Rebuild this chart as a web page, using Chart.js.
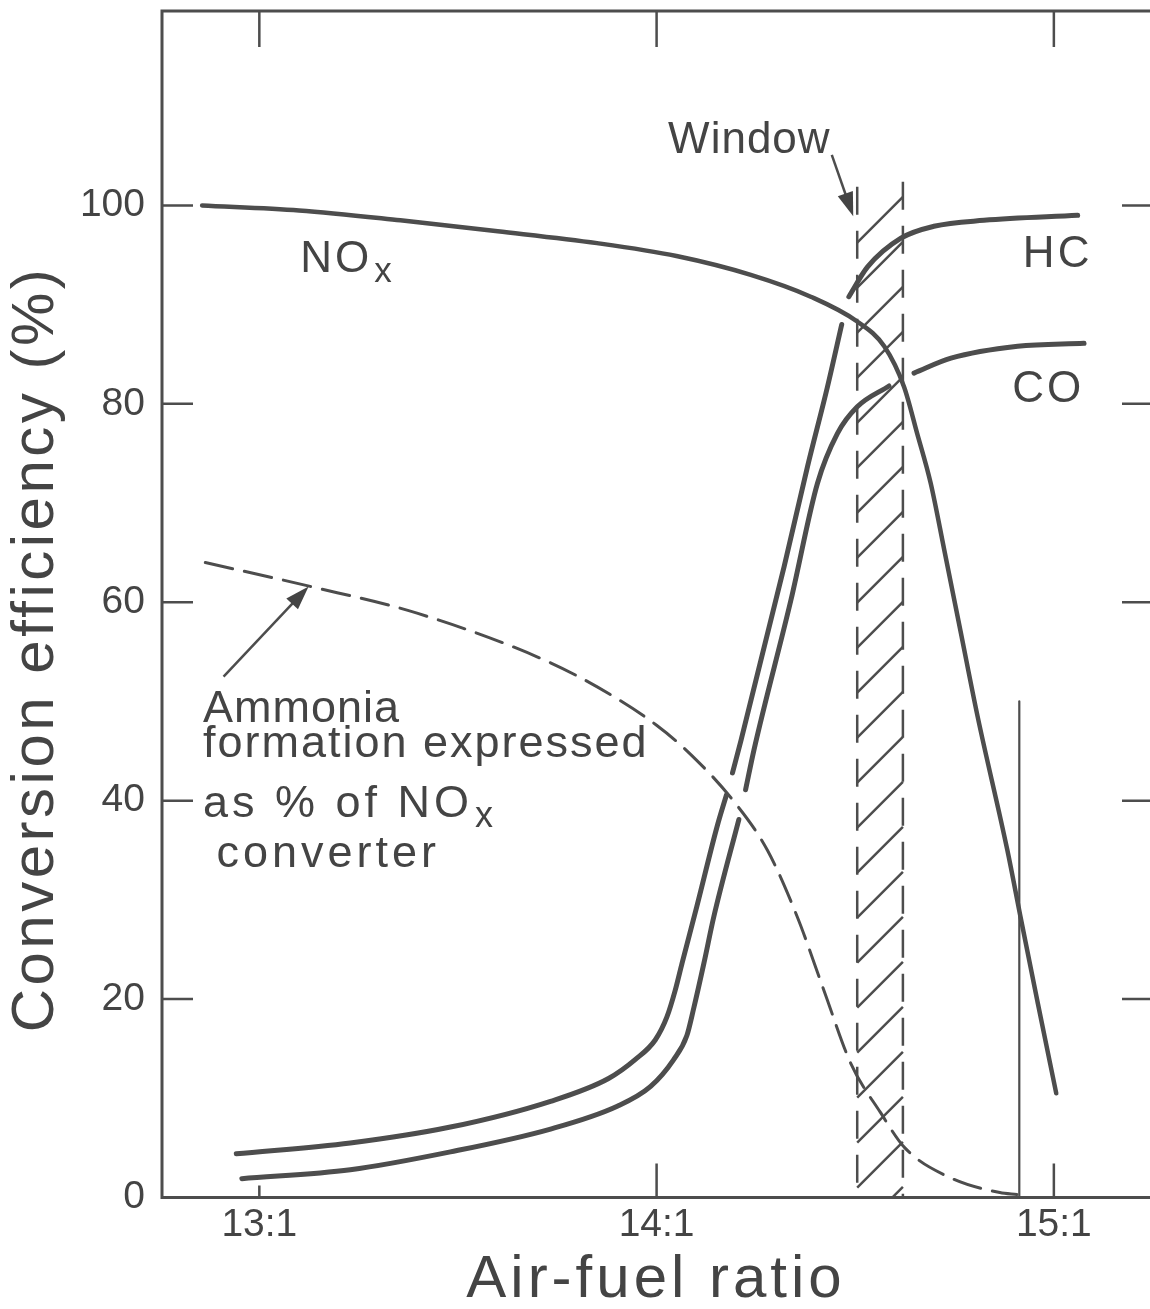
<!DOCTYPE html>
<html>
<head>
<meta charset="utf-8">
<script src="https://cdn.jsdelivr.net/npm/chart.js@4.4.1/dist/chart.umd.min.js"></script>
<style>
    html, body { margin: 0; padding: 0; background: #fff; }
    #wrap { width: 1150px; height: 1309px; position: relative; }
</style>
</head>
<body>
<div id="wrap"><canvas id="chart"></canvas></div>
<script>
// ==========================================
// DATA
// ==========================================

const ratioTicks = [13, 14, 15];
const ratioTickLabels = ['13:1', '14:1', '15:1'];
const efficiencyTicks = [0, 20, 40, 60, 80, 100];

// NOx conversion
const noxRatio = [12.856, 13.1, 13.355, 13.6, 13.85, 14.05, 14.237, 14.388, 14.505, 14.573, 14.623,
    14.656, 14.69, 14.724, 14.766, 14.808, 14.883, 14.916, 14.96, 15.006];
const noxEff = [100.0, 99.5, 98.5, 97.4, 96.2, 94.9, 93.0, 90.8, 88.3, 85.8, 81.7,
    77.0, 72.0, 65.3, 56.9, 48.5, 35.0, 28.3, 19.5, 10.5];

// HC conversion (null = pen lift in the drawing)
const hcRatio = [12.942, 13.229, 13.481, 13.733, 13.879, 13.946, 13.997, 14.026, 14.047, 14.064, 14.101,
    14.153, 14.176, null, 14.191, 14.212, 14.321, 14.38, 14.43, 14.466, null,
    14.484, 14.531, 14.615, 14.698, 14.824, 15.06];
const hcEff = [4.4, 5.5, 7.1, 9.7, 12.0, 13.9, 15.9, 18.2, 20.9, 23.6, 29.3,
    37.5, 40.6, null, 42.8, 46.0, 63.6, 73.7, 81.7, 88.0, null,
    90.8, 93.8, 96.7, 97.9, 98.5, 99.0];

// CO conversion
const coRatio = [12.956, 13.229, 13.481, 13.733, 13.901, 13.985, 14.043, 14.076, 14.093, 14.119, 14.144,
    14.207, null, 14.224, 14.245, 14.338, 14.405, 14.455, 14.505, 14.585, null,
    14.648, 14.741, 14.909, 15.076];
const coEff = [1.9, 2.8, 4.6, 6.9, 9.2, 11.2, 13.9, 16.3, 19.0, 23.6, 28.3,
    38.1, null, 41.1, 45.1, 60.2, 72.0, 77.0, 79.7, 81.8, null,
    83.1, 84.6, 85.8, 86.1];

// Ammonia formation (dashed)
const ammoniaRatio = [12.864, 13.128, 13.397, 13.733, 13.9, 14.0, 14.077, 14.191, 14.279, 14.354,
    14.421, 14.489, 14.563, 14.625, 14.739, 14.864, 14.907];
const ammoniaEff = [64.0, 61.6, 58.9, 53.9, 50.3, 47.6, 45.0, 40.1, 35.0, 28.3,
    20.9, 13.5, 8.6, 5.0, 2.0, 0.5, 0.3];

// thin vertical marker line near 15:1
const markerRatio = [14.913, 14.913];
const markerEff = [0, 50];

// hatched "window"
const windowEdges = [14.505, 14.62];
const windowTop = 102.4;

const INK = '#4d4d4d';
const TEXT = '#444';
const FONT = '"Liberation Sans", Arial, sans-serif';

function toPoints(xs, ys) {
    return xs.map((x, i) => ({ x: x, y: ys[i] }));
}

// ==========================================
// DRAWING HELPERS
// ==========================================

function drawArrow(ctx, x0, y0, x1, y1) {
    const ang = Math.atan2(y1 - y0, x1 - x0);
    const len = 24, half = 8;
    ctx.beginPath();
    ctx.moveTo(x0, y0);
    ctx.lineTo(x1 - Math.cos(ang) * len * 0.6, y1 - Math.sin(ang) * len * 0.6);
    ctx.stroke();
    ctx.beginPath();
    ctx.moveTo(x1, y1);
    ctx.lineTo(x1 - Math.cos(ang) * len - Math.sin(ang) * half, y1 - Math.sin(ang) * len + Math.cos(ang) * half);
    ctx.lineTo(x1 - Math.cos(ang) * len + Math.sin(ang) * half, y1 - Math.sin(ang) * len - Math.cos(ang) * half);
    ctx.closePath();
    ctx.fill();
}

function drawLabel(ctx, xs, ys, item) {
    const px = xs.getPixelForValue(item.x);
    const py = ys.getPixelForValue(item.y);
    ctx.font = item.size + 'px ' + FONT;
    ctx.letterSpacing = (item.spacing || 0) + 'px';
    ctx.textAlign = 'left';
    ctx.textBaseline = 'alphabetic';
    ctx.fillText(item.text, px, py);
    if (item.sub) {
        const w = ctx.measureText(item.text).width;
        ctx.font = Math.round(item.size * 0.8) + 'px ' + FONT;
        ctx.fillText(item.sub, px + w + 2, py + 10);
    }
    ctx.letterSpacing = '0px';
}

// frame, inward ticks and the hatched window
const paperPlugin = {
    id: 'paper',
    beforeDatasetsDraw(chart) {
        const ctx = chart.ctx;
        const a = chart.chartArea;
        const xs = chart.scales.x, ys = chart.scales.y;
        ctx.save();
        ctx.strokeStyle = INK;
        ctx.lineCap = 'butt';

        // frame (right side falls off the page)
        ctx.lineWidth = 3;
        ctx.beginPath();
        ctx.moveTo(a.right + 2, a.top);
        ctx.lineTo(a.left, a.top);
        ctx.lineTo(a.left, a.bottom);
        ctx.lineTo(a.right + 2, a.bottom);
        ctx.stroke();

        // inward ticks
        ctx.lineWidth = 2.5;
        ctx.beginPath();
        efficiencyTicks.forEach(v => {
            if (v === 0) return;
            const py = ys.getPixelForValue(v);
            ctx.moveTo(a.left, py); ctx.lineTo(a.left + 31, py);
            ctx.moveTo(a.right, py); ctx.lineTo(a.right - 28, py);
        });
        const bottomLen = [12, 34, 34];
        ratioTicks.forEach((v, i) => {
            const px = xs.getPixelForValue(v);
            ctx.moveTo(px, a.top); ctx.lineTo(px, a.top + 36);
            ctx.moveTo(px, a.bottom); ctx.lineTo(px, a.bottom - bottomLen[i]);
        });
        ctx.stroke();

        // window hatch
        const L = xs.getPixelForValue(windowEdges[0]);
        const R = xs.getPixelForValue(windowEdges[1]);
        const T = ys.getPixelForValue(windowTop);
        const B = ys.getPixelForValue(0);
        ctx.lineWidth = 2.5;
        ctx.setLineDash([28, 16]);
        ctx.beginPath();
        ctx.moveTo(L, T + 5); ctx.lineTo(L, B);
        ctx.moveTo(R, T); ctx.lineTo(R, B);
        ctx.stroke();
        ctx.setLineDash([]);
        ctx.save();
        ctx.beginPath();
        ctx.rect(L - 2, T, R - L + 4, B - T);
        ctx.clip();
        ctx.beginPath();
        for (let yk = T + 61; yk < B + 45; yk += 45) {
            ctx.moveTo(L, yk);
            ctx.lineTo(R, yk - (R - L));
        }
        ctx.stroke();
        ctx.restore();
        ctx.restore();
    },
    afterDatasetsDraw(chart) {
        const ctx = chart.ctx;
        const xs = chart.scales.x, ys = chart.scales.y;
        ctx.save();
        ctx.fillStyle = TEXT;
        ctx.strokeStyle = INK;
        ctx.lineWidth = 2.5;

        [
            { text: 'NO', sub: 'x', x: 13.103, y: 93.3, size: 44, spacing: 3 },
            { text: 'HC', x: 14.922, y: 93.8, size: 44, spacing: 3 },
            { text: 'CO', x: 14.895, y: 80.2, size: 44, spacing: 3 },
            { text: 'Window', x: 14.029, y: 105.3, size: 44, spacing: 1 },
            { text: 'Ammonia', x: 12.858, y: 47.9, size: 45, spacing: 1 },
            { text: 'formation expressed', x: 12.858, y: 44.4, size: 45, spacing: 2 },
            { text: 'as % of NO', sub: 'x', x: 12.858, y: 38.4, size: 45, spacing: 4 },
            { text: 'converter', x: 12.892, y: 33.3, size: 45, spacing: 4 }
        ].forEach(item => drawLabel(ctx, xs, ys, item));

        // arrows
        drawArrow(ctx, xs.getPixelForValue(14.441), ys.getPixelForValue(105.1),
            xs.getPixelForValue(14.495), ys.getPixelForValue(98.9));
        drawArrow(ctx, xs.getPixelForValue(12.91), ys.getPixelForValue(52.5),
            xs.getPixelForValue(13.124), ys.getPixelForValue(61.6));

        // axis titles
        ctx.font = '60px ' + FONT;
        ctx.letterSpacing = '3.5px';
        ctx.textAlign = 'center';
        ctx.textBaseline = 'middle';
        ctx.save();
        ctx.translate(36, 649);
        ctx.rotate(-Math.PI / 2);
        ctx.fillText('Conversion efficiency (%)', 0, 0);
        ctx.restore();
        ctx.textBaseline = 'alphabetic';
        ctx.letterSpacing = '4px';
        ctx.fillText('Air-fuel ratio', 656, 1297);
        ctx.restore();
    }
};

// ==========================================
// CHART
// ==========================================

function curve(label, xs, ys, width, dash) {
    return {
        label: label,
        data: toPoints(xs, ys),
        borderColor: INK,
        borderWidth: width,
        borderDash: dash || [],
        borderCapStyle: 'round',
        pointRadius: 0,
        fill: false,
        spanGaps: false,
        cubicInterpolationMode: 'monotone'
    };
}

const markerSet = curve('marker', markerRatio, markerEff, 2.2);
markerSet.cubicInterpolationMode = 'default';
markerSet.tension = 0;

new Chart(document.getElementById('chart'), {
    type: 'line',
    data: {
        datasets: [
            curve('NOx', noxRatio, noxEff, 4.5),
            curve('HC', hcRatio, hcEff, 5),
            curve('CO', coRatio, coEff, 5),
            curve('Ammonia', ammoniaRatio, ammoniaEff, 3, [28, 12]),
            markerSet
        ]
    },
    options: {
        responsive: true,
        maintainAspectRatio: false,
        animation: false,
        layout: { padding: { top: 11, right: 0, bottom: 0, left: 0 } },
        plugins: {
            legend: { display: false },
            tooltip: { enabled: false }
        },
        scales: {
            x: {
                type: 'linear',
                min: 12.755,
                max: 15.242,
                afterBuildTicks: s => { s.ticks = ratioTicks.map(v => ({ value: v })); },
                afterFit: s => {
                    s.height = 111.5;
                    s.paddingLeft = 0;
                    s.paddingRight = 0;
                },
                ticks: {
                    callback: (v, i) => ratioTickLabels[i],
                    font: { family: FONT, size: 39 },
                    color: TEXT,
                    padding: 4,
                    maxRotation: 0,
                    autoSkip: false
                },
                grid: { display: false, drawTicks: false },
                border: { display: false }
            },
            y: {
                type: 'linear',
                min: 0,
                max: 119.6,
                afterBuildTicks: s => { s.ticks = efficiencyTicks.map(v => ({ value: v })); },
                afterFit: s => {
                    s.width = 162;
                    s.paddingTop = 0;
                    s.paddingBottom = 0;
                },
                ticks: {
                    font: { family: FONT, size: 39 },
                    color: TEXT,
                    padding: 17
                },
                grid: { display: false, drawTicks: false },
                border: { display: false }
            }
        }
    },
    plugins: [paperPlugin]
});
</script>
</body>
</html>
